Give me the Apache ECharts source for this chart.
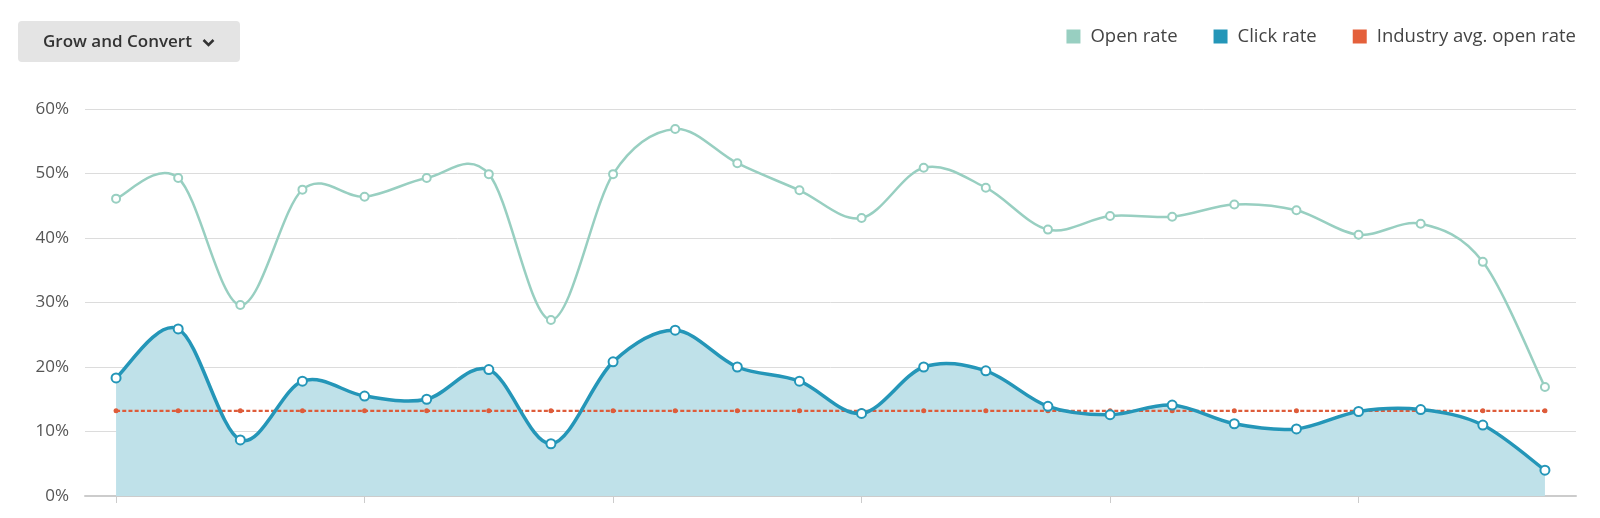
<!DOCTYPE html>
<html>
<head>
<meta charset="utf-8">
<script src="https://cdn.jsdelivr.net/npm/echarts@6/dist/echarts.min.js"></script>
<style>
  html, body { margin: 0; padding: 0; background: #ffffff; }
  #chart { width: 1600px; height: 518px; }
</style>
</head>
<body>
<div id="chart"></div>
<script>
// ---- Data ----
const categories = ['Email 1','Email 2','Email 3','Email 4','Email 5','Email 6','Email 7','Email 8',
  'Email 9','Email 10','Email 11','Email 12','Email 13','Email 14','Email 15','Email 16',
  'Email 17','Email 18','Email 19','Email 20','Email 21','Email 22','Email 23','Email 24'];
const openRate = [46.1, 49.3, 29.6, 47.5, 46.4, 49.3, 49.9, 27.3, 49.9, 56.9, 51.6, 47.4,
  43.1, 50.9, 47.8, 41.3, 43.4, 43.3, 45.2, 44.3, 40.5, 42.2, 36.3, 16.9];
const clickRate = [18.3, 25.9, 8.7, 17.8, 15.5, 15.0, 19.6, 8.1, 20.8, 25.7, 20.0, 17.8,
  12.8, 20.0, 19.4, 13.9, 12.6, 14.1, 11.2, 10.4, 13.1, 13.4, 11.0, 4.0];
const industryAvg = [13.2, 13.2, 13.2, 13.2, 13.2, 13.2, 13.2, 13.2, 13.2, 13.2, 13.2, 13.2,
  13.2, 13.2, 13.2, 13.2, 13.2, 13.2, 13.2, 13.2, 13.2, 13.2, 13.2, 13.2];
const yTicks = [0, 10, 20, 30, 40, 50, 60];
const buttonLabel = 'Grow and Convert';
const seriesNames = ['Open rate', 'Click rate', 'Industry avg. open rate'];

// ---- Styles ----
const FONT = '"Open Sans", "Noto Sans", sans-serif';
const C_OPEN = '#98cfc1';
const C_CLICK = '#2496b8';
const C_FILL = '#bfe1e9';
const C_IND = '#de5c3a';

// Catmull-Rom spline through the data points, positioned by the chart's own axes
function splinePath(api, values) {
  const pts = values.map(function (v, i) { return api.coord([i, v]); });
  const n = pts.length;
  let d = 'M' + pts[0][0] + ',' + pts[0][1];
  for (let i = 0; i < n - 1; i++) {
    const p0 = pts[Math.max(i - 1, 0)], p1 = pts[i], p2 = pts[i + 1], p3 = pts[Math.min(i + 2, n - 1)];
    const c1x = p1[0] + (p2[0] - p0[0]) / 6, c1y = p1[1] + (p2[1] - p0[1]) / 6;
    const c2x = p2[0] - (p3[0] - p1[0]) / 6, c2y = p2[1] - (p3[1] - p1[1]) / 6;
    d += ' C' + c1x + ',' + c1y + ' ' + c2x + ',' + c2y + ' ' + p2[0] + ',' + p2[1];
  }
  return { d: d, pts: pts };
}

function curveSeries(name, values, stroke, width, fill, z) {
  return {
    name: name,
    type: 'custom',
    data: values.map(function (v, i) { return [i, v]; }),
    encode: { x: 0, y: 1 },
    silent: true,
    z: z,
    renderItem: function (params, api) {
      if (params.dataIndex !== 0) return null;
      const sp = splinePath(api, values);
      if (fill) {
        const base = api.coord([0, 0])[1];
        const last = sp.pts[sp.pts.length - 1], first = sp.pts[0];
        const area = sp.d + ' L' + last[0] + ',' + base + ' L' + first[0] + ',' + base + ' Z';
        return { type: 'path', shape: { pathData: area }, style: { fill: fill, stroke: 'none' } };
      }
      return { type: 'path', shape: { pathData: sp.d }, style: { fill: 'none', stroke: stroke, lineWidth: width, lineJoin: 'round' } };
    }
  };
}

const chart = echarts.init(document.getElementById('chart'), null, { renderer: 'canvas' });

const option = {
  animation: false,
  backgroundColor: '#ffffff',
  textStyle: { fontFamily: FONT },
  grid: { left: 85, right: 24, top: 109, bottom: 22, containLabel: false },
  legend: {
    data: [
      { name: seriesNames[0], itemStyle: { color: C_OPEN, borderWidth: 0 } },
      { name: seriesNames[1], itemStyle: { color: C_CLICK, borderWidth: 0 } },
      { name: seriesNames[2], itemStyle: { color: '#e4603b', borderWidth: 0 } }
    ],
    right: 19,
    top: 22,
    icon: 'rect',
    itemWidth: 14,
    itemHeight: 14,
    itemGap: 36,
    textStyle: { fontFamily: FONT, fontSize: 18.5, color: '#444', padding: [0, 0, 0, 5] }
  },
  xAxis: {
    type: 'category',
    data: categories,
    boundaryGap: true,
    axisLine: { show: true, lineStyle: { color: '#cccccc', width: 2 } },
    axisTick: { show: true, alignWithLabel: true, interval: 3, length: 7, lineStyle: { color: '#cccccc', width: 1 } },
    axisLabel: { show: false },
    splitLine: { show: false }
  },
  yAxis: {
    type: 'value',
    min: yTicks[0],
    max: yTicks[yTicks.length - 1],
    interval: yTicks[1] - yTicks[0],
    axisLine: { show: false },
    axisTick: { show: false },
    axisLabel: { formatter: '{value}%', fontFamily: FONT, fontSize: 17, color: '#555', margin: 16 },
    splitLine: { lineStyle: { color: '#dcdcdc', width: 1 } }
  },
  graphic: [
    { type: 'rect', x: 18, y: 21, shape: { width: 222, height: 41, r: 4 }, style: { fill: '#e4e4e4' } },
    { type: 'text', x: 43, y: 42, style: { text: buttonLabel, font: '600 17px ' + FONT, fill: '#333', verticalAlign: 'middle', textVerticalAlign: 'middle' } },
    { type: 'polyline', shape: { points: [[203.5, 40], [208.5, 45], [213.5, 40]] }, style: { stroke: '#333', lineWidth: 2.5, fill: null } }
  ],
  series: [
    curveSeries('Click rate area', clickRate, null, 0, C_FILL, 1),
    {
      name: seriesNames[2],
      type: 'line',
      data: industryAvg,
      symbol: 'circle',
      symbolSize: 5,
      itemStyle: { color: C_IND },
      lineStyle: { color: C_IND, width: 2.3, type: [4, 2.2] },
      z: 2
    },
    curveSeries('Open rate curve', openRate, C_OPEN, 2.5, null, 3),
    {
      name: seriesNames[0],
      type: 'line',
      data: openRate,
      symbol: 'emptyCircle',
      symbolSize: 8,
      itemStyle: { color: C_OPEN, borderColor: C_OPEN, borderWidth: 2 },
      lineStyle: { color: C_OPEN, width: 0, opacity: 0 },
      z: 4
    },
    curveSeries('Click rate curve', clickRate, C_CLICK, 3.5, null, 5),
    {
      name: seriesNames[1],
      type: 'line',
      data: clickRate,
      symbol: 'emptyCircle',
      symbolSize: 9,
      itemStyle: { color: C_CLICK, borderColor: C_CLICK, borderWidth: 2.5 },
      lineStyle: { color: C_CLICK, width: 0, opacity: 0 },
      z: 6
    }
  ]
};
chart.setOption(option);
</script>
</body>
</html>
